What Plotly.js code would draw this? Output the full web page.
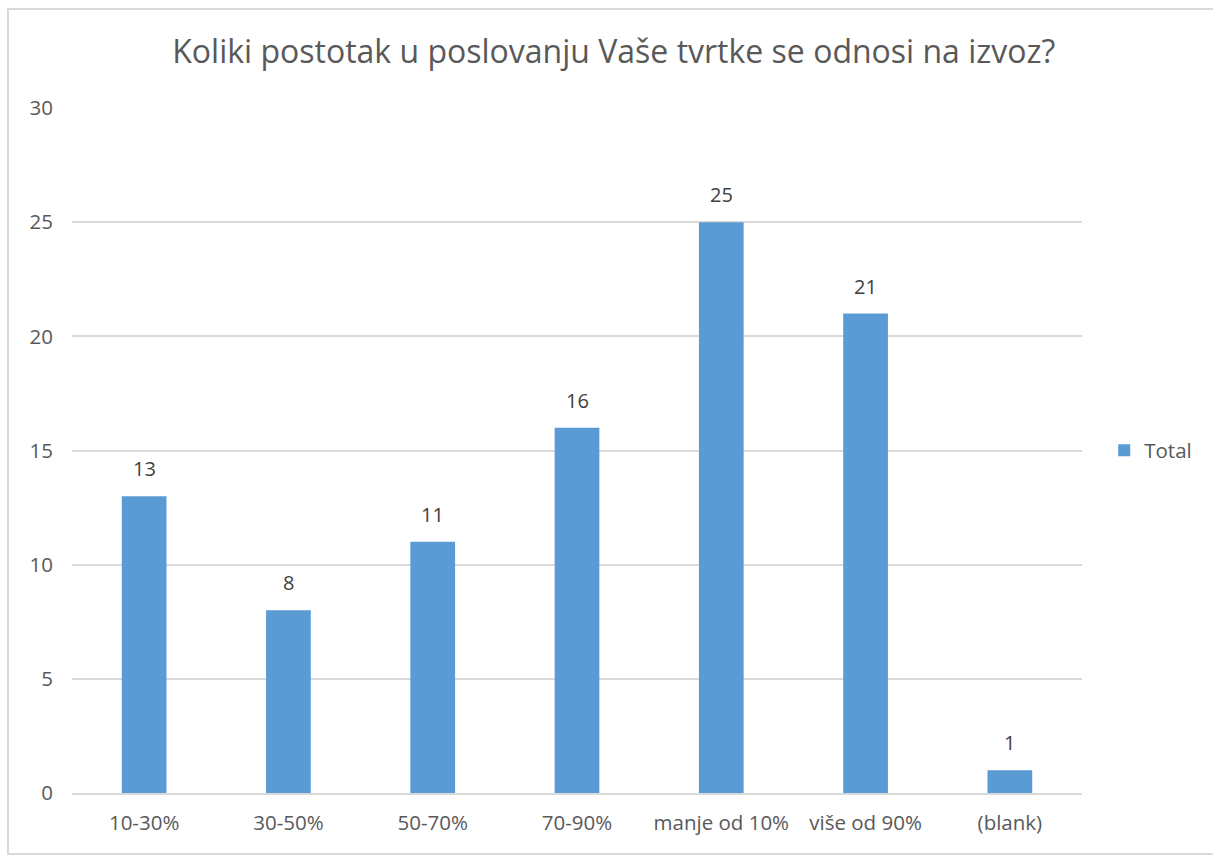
<!DOCTYPE html>
<html><head><meta charset="utf-8">
<script src="https://cdn.plot.ly/plotly-3.0.1.min.js"></script>
<style>
html,body{margin:0;padding:0;background:#fff;overflow:hidden;}
#wrap{position:relative;width:1213px;height:855px;overflow:hidden;}
#chart{position:absolute;left:0;top:0;width:1213px;height:855px;}
#frame{position:absolute;left:7px;top:8px;width:1230px;height:843px;border:2px solid #D9D9D9;pointer-events:none;}
</style></head>
<body><div id="wrap"><div id="chart"></div><div id="frame"></div></div>
<script>
const categories = ["10-30%", "30-50%", "50-70%", "70-90%", "manje od 10%", "više od 90%", "(blank)"];
const totals = [13, 8, 11, 16, 25, 21, 1];
const yTicks = [0, 5, 10, 15, 20, 25, 30];
const seriesName = "Total";
const chartTitle = "Koliki postotak u poslovanju Vaše tvrtke se odnosi na izvoz?";

const font = "'Open Sans', 'Segoe UI', sans-serif";
const labels = categories.map((c, i) => ({
  x: c, y: totals[i], xref: 'x', yref: 'y', text: String(totals[i]),
  showarrow: false, yanchor: 'bottom', yshift: 12,
  font: {family: font, size: 20, color: '#404040'}
}));
Plotly.newPlot('chart', [{
  type: 'bar', x: categories, y: totals, name: seriesName,
  marker: {color: '#5B9BD5'},
  showlegend: true
}], {
  width: 1213, height: 855,
  margin: {l: 72, r: 131, t: 108, b: 62, pad: 0},
  paper_bgcolor: 'rgba(0,0,0,0)', plot_bgcolor: '#fff',
  title: {text: chartTitle, x: 0.506, xanchor: 'center', y: 0.94, yanchor: 'middle',
          font: {family: font, size: 32, color: '#595959'}},
  bargap: 0.69,
  annotations: labels,
  xaxis: {type: 'category', tickfont: {family: font, size: 20.5, color: '#595959'},
          showline: true, linecolor: '#D9D9D9', linewidth: 2, ticks: '', ticklabelstandoff: 10},
  yaxis: {range: [0, 30], tickvals: yTicks, ticktext: yTicks.map(String),
          tickfont: {family: font, size: 20.5, color: '#595959'},
          gridcolor: '#D9D9D9', gridwidth: 2, zeroline: false, showline: false, ticks: '',
          ticklabelstandoff: 18},
  legend: {x: 1.022, xanchor: 'left', y: 0.5, yanchor: 'middle',
           font: {family: font, size: 20.5, color: '#595959'}, itemwidth: 30},
  showlegend: true
}, {displayModeBar: false, staticPlot: true});
</script></body></html>
